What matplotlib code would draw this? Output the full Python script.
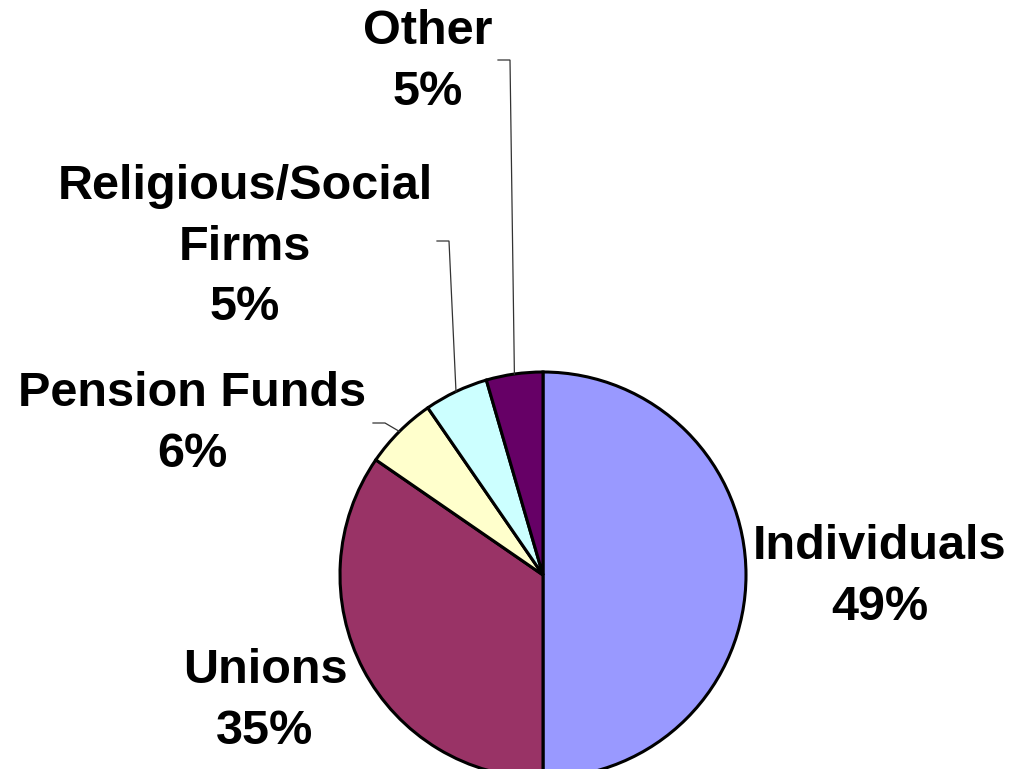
import numpy as np
import matplotlib
matplotlib.use("Agg")
import matplotlib.pyplot as plt

categories = ["Individuals", "Unions", "Pension Funds", "Religious/Social\nFirms", "Other"]
shares = [50.0, 34.6, 5.8, 5.1, 4.5]          # slice sizes
pct_labels = ["49%", "35%", "6%", "5%", "5%"]  # percentages as printed
colors = ["#9999FF", "#993366", "#FFFFCC", "#CCFFFF", "#660066"]

W, H = 1012, 769
fig = plt.figure(figsize=(W / 100, H / 100), dpi=100)
ax = fig.add_axes([0, 0, 1, 1])

def Y(y):
    return H - y

cx, cy, R = 543, Y(575), 203
wedges, _ = ax.pie(shares, colors=colors, startangle=90, counterclock=False,
                   center=(cx, cy), radius=R,
                   wedgeprops=dict(edgecolor="black", linewidth=2.2))
ax.set_xlim(0, W)
ax.set_ylim(0, H)
ax.set_aspect("equal")
ax.axis("off")

font = dict(family=["Liberation Sans", "DejaVu Sans"], fontsize=35, fontweight="bold",
            color="black", ha="center", va="center", linespacing=1.45)

# label centres (pixel coords from top)
label_pos = {
    0: (880, 577),
    1: (265, 701),
    2: (192, 424),
    3: (245, 247),
    4: (428, 62),
}
for i, (x, y) in label_pos.items():
    ax.text(x, Y(y), categories[i] + "\n" + pct_labels[i], **font)

# leader lines for small slices: (horizontal start x, knee x, y)
leaders = {
    2: (373, 385, 423),
    3: (437, 449, 241),
    4: (498, 510, 60),
}
for i, (x0, x1, y) in leaders.items():
    w = wedges[i]
    mid = np.deg2rad((w.theta1 + w.theta2) / 2)
    ex, ey = cx + R * np.cos(mid), cy + R * np.sin(mid)
    ax.plot([x0, x1, ex], [Y(y), Y(y), ey], color="#333333", linewidth=0.9,
            solid_joinstyle="miter")

fig.savefig("out.png", dpi=100, facecolor="white")
